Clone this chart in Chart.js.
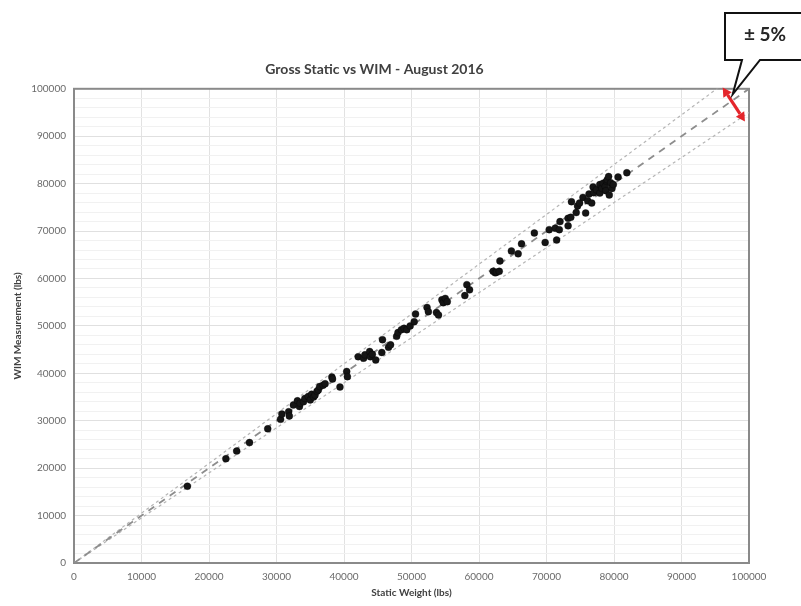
<!DOCTYPE html>
<html><head><meta charset="utf-8">
<script src="https://cdn.jsdelivr.net/npm/chart.js@4.4.0/dist/chart.umd.min.js"></script>
<style>html,body{margin:0;padding:0;background:#fff;}</style>
</head><body>
<canvas id="c" width="801" height="606"></canvas>
<script>
// ---- data ----
const staticWeight = [
  16800, 22500, 24100, 26000, 28700, 30600, 30800, 31800, 31900, 32500,
  33100, 33400, 33500, 34000, 34200, 34700, 35000, 35200, 35500, 35700,
  36000, 36200, 36400, 36900, 37200, 38200, 38300, 39400, 40400, 40500,
  42100, 42900, 43100, 43800, 43900, 44200, 44700, 45600, 45700, 46600,
  46900, 47800, 48000, 48500, 48900, 49300, 49800, 50400, 50600, 52300,
  52500, 53700, 54000, 54500, 54700, 55000, 55300, 57900, 58200, 58600,
  62100, 62400, 62600, 63000, 63100, 64800, 65800, 66300, 68200, 69800,
  70400, 71500, 71300, 72000, 71900, 73200, 73200, 73600, 73700, 74400,
  74600, 74900, 75400, 75800, 76100, 76300, 76700, 76900, 77000, 77400,
  77900, 77900, 78200, 78400, 78700, 78800, 78900, 79000, 79200, 79300,
  79500, 79700, 79900, 80600, 81900
];
const wimMeasurement = [
  16200, 22000, 23600, 25400, 28300, 30300, 31400, 31900, 31000, 33300,
  34200, 33000, 33700, 34000, 34700, 35100, 34400, 35600, 35000, 35400,
  36200, 36500, 37200, 37500, 37800, 39200, 38800, 37100, 40400, 39300,
  43500, 43200, 43900, 44600, 43500, 44000, 42800, 44400, 47100, 45500,
  46000, 47800, 48600, 49200, 49500, 49200, 50000, 50900, 52500, 53900,
  53000, 52800, 52300, 55500, 54900, 55800, 55100, 56400, 58700, 57600,
  61500, 61200, 61300, 61500, 63700, 65800, 65200, 67300, 69600, 67600,
  70300, 68100, 70600, 72000, 70300, 71100, 72700, 72900, 76200, 73900,
  75300, 75900, 77100, 73800, 76400, 77800, 75900, 79300, 78100, 78700,
  79800, 78000, 79000, 80100, 79400, 78500, 80500, 80800, 81500, 77600,
  80200, 79000, 79800, 81400, 82300
];
const axisTicks = [0, 10000, 20000, 30000, 40000, 50000, 60000, 70000, 80000, 90000, 100000];
const referenceX = [0, 100000];
const toleranceFactors = [1.05, 1.00, 0.95];
const arrowFrom = [96100, 100300];
const arrowTo = [99400, 93100];
const chartTitle = 'Gross Static vs WIM - August 2016';
const xTitle = 'Static Weight (lbs)';
const yTitle = 'WIM Measurement (lbs)';
const calloutText = '± 5%';

const FONT = 'Lato, "Open Sans", sans-serif';
const points = staticWeight.map((x, i) => ({x: x, y: wimMeasurement[i]}));
const refLine = f => referenceX.map(x => ({x: x, y: x * f}));

const framePlugin = {
  id: 'frame',
  beforeDatasetsDraw(chart) {
    const {ctx, chartArea: a} = chart;
    ctx.save();
    ctx.strokeStyle = '#8a8a8a';
    ctx.lineWidth = 2;
    ctx.strokeRect(a.left, a.top, a.right - a.left, a.bottom - a.top);
    ctx.restore();
  }
};

const calloutPlugin = {
  id: 'callout',
  afterDraw(chart) {
    const {ctx} = chart;
    const xs = chart.scales.x, ys = chart.scales.y;
    const x1 = xs.getPixelForValue(arrowFrom[0]), y1 = ys.getPixelForValue(arrowFrom[1]);
    const x2 = xs.getPixelForValue(arrowTo[0]), y2 = ys.getPixelForValue(arrowTo[1]);
    ctx.save();
    // red double arrow
    const ang = Math.atan2(y2 - y1, x2 - x1);
    const head = 9, hw = 5;
    ctx.strokeStyle = '#e4252b';
    ctx.fillStyle = '#e4252b';
    ctx.lineWidth = 3.2;
    ctx.beginPath();
    ctx.moveTo(x1 + Math.cos(ang) * head, y1 + Math.sin(ang) * head);
    ctx.lineTo(x2 - Math.cos(ang) * head, y2 - Math.sin(ang) * head);
    ctx.stroke();
    const tri = (px, py, a) => {
      ctx.beginPath();
      ctx.moveTo(px, py);
      ctx.lineTo(px - Math.cos(a) * head - Math.sin(a) * hw, py - Math.sin(a) * head + Math.cos(a) * hw);
      ctx.lineTo(px - Math.cos(a) * head + Math.sin(a) * hw, py - Math.sin(a) * head - Math.cos(a) * hw);
      ctx.closePath();
      ctx.fill();
    };
    tri(x2, y2, ang);
    tri(x1, y1, ang + Math.PI);
    // callout box with tail
    const L = 725, R = 812, T = 13, B = 60;
    const tipX = x1 + 10, tipY = y1 + 7;
    ctx.beginPath();
    ctx.moveTo(L, T);
    ctx.lineTo(R, T);
    ctx.lineTo(R, B);
    ctx.lineTo(760, B);
    ctx.lineTo(tipX, tipY);
    ctx.lineTo(742, B);
    ctx.lineTo(L, B);
    ctx.closePath();
    ctx.fillStyle = '#ffffff';
    ctx.fill();
    ctx.strokeStyle = '#111';
    ctx.lineWidth = 2;
    ctx.lineJoin = 'miter';
    ctx.stroke();
    ctx.fillStyle = '#262626';
    ctx.font = 'bold 19px ' + FONT;
    ctx.textAlign = 'center';
    ctx.textBaseline = 'middle';
    ctx.fillText(calloutText, 765, 35);
    ctx.restore();
  }
};

new Chart(document.getElementById('c'), {
  type: 'scatter',
  data: {
    datasets: [
      {
        label: 'Gross', data: points, order: 0,
        pointRadius: 3.5, pointHoverRadius: 3.5,
        backgroundColor: '#151515', borderColor: 'rgba(0,0,0,0.55)', borderWidth: 0.6
      },
      {
        type: 'line', label: '+5%', data: refLine(toleranceFactors[0]), order: 2,
        borderColor: '#b5b5b5', borderWidth: 1.2, borderDash: [3, 3], pointRadius: 0, fill: false
      },
      {
        type: 'line', label: '1:1', data: refLine(toleranceFactors[1]), order: 1,
        borderColor: '#8d8d8d', borderWidth: 1.8, borderDash: [7, 6], pointRadius: 0, fill: false
      },
      {
        type: 'line', label: '-5%', data: refLine(toleranceFactors[2]), order: 2,
        borderColor: '#b5b5b5', borderWidth: 1.2, borderDash: [3, 3], pointRadius: 0, fill: false
      }
    ]
  },
  options: {
    responsive: false,
    animation: false,
    devicePixelRatio: 1,
    layout: {padding: {left: 0, right: 52, top: 0, bottom: 0}},
    plugins: {
      legend: {display: false},
      tooltip: {enabled: false},
      title: {
        display: true, text: chartTitle, color: '#404040',
        font: {family: FONT, size: 14, weight: 'bold'},
        padding: {top: 61, bottom: 11}
      }
    },
    scales: {
      x: {
        type: 'linear', min: 0, max: 100000,
        afterBuildTicks: s => { s.ticks = axisTicks.map(v => ({value: v})); },
        afterFit: s => { s.height = 43; },
        ticks: {
          color: '#6a6a6a', font: {family: FONT, size: 10}, padding: 8,
          maxRotation: 0, autoSkip: false, callback: v => String(v)
        },
        grid: {color: '#e2e2e2', drawTicks: false, lineWidth: 1},
        border: {display: false},
        title: {
          display: true, text: xTitle, color: '#404040',
          font: {family: FONT, size: 10, weight: 'bold'},
          padding: {top: 0, bottom: 7}
        }
      },
      y: {
        type: 'linear', min: 0, max: 100000,
        afterFit: s => { s.width = 74; },
        ticks: {
          stepSize: 2000, autoSkip: false,
          color: '#6a6a6a', font: {family: FONT, size: 10}, padding: 8,
          callback: v => (v % 10000 === 0 ? String(v) : '')
        },
        grid: {
          drawTicks: false, lineWidth: 1,
          color: c => (c.tick && c.tick.value % 10000 === 0 ? '#e0e0e0' : '#f1f1f1')
        },
        border: {display: false},
        title: {
          display: true, text: yTitle, color: '#404040',
          font: {family: FONT, size: 10, weight: 'bold'},
          padding: {top: 12, bottom: 0}
        }
      }
    }
  },
  plugins: [framePlugin, calloutPlugin]
});
</script>
</body></html>
